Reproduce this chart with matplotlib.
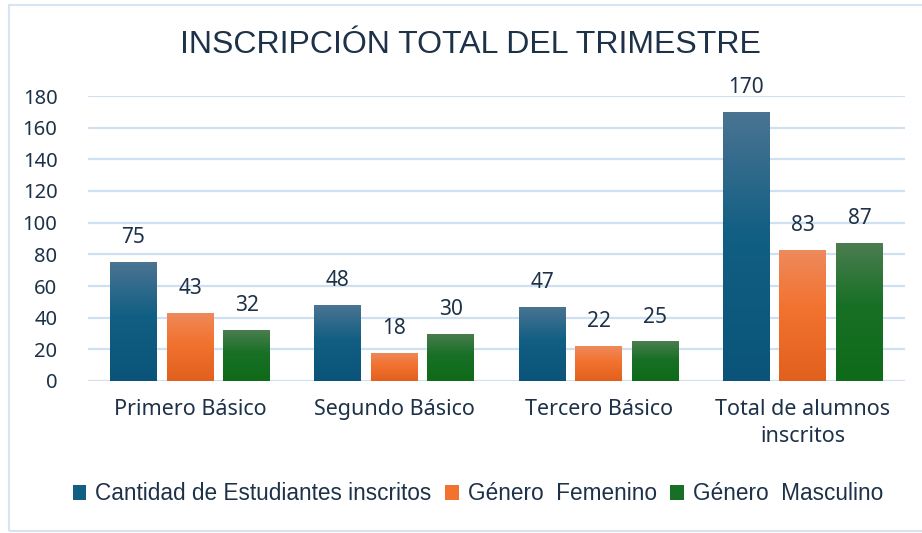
import numpy as np
import matplotlib
matplotlib.use("Agg")
import matplotlib.pyplot as plt
from matplotlib.colors import LinearSegmentedColormap
from matplotlib.patches import Patch, Rectangle

categories = ["Primero Básico", "Segundo Básico", "Tercero Básico", "Total de alumnos\ninscritos"]
series_names = ["Cantidad de Estudiantes inscritos", "Género  Femenino", "Género  Masculino"]
cantidad = [75, 48, 47, 170]
femenino = [43, 18, 22, 83]
masculino = [32, 30, 25, 87]
yticks = [0, 20, 40, 60, 80, 100, 120, 140, 160, 180]

# bottom, middle, top colour of each gradient
grads = [("#0a5479", "#125f84", "#4b7492"),
         ("#e2601e", "#f2722f", "#ee8a5c"),
         ("#0e6b19", "#187026", "#4b7d50")]
text_col = "#1d3148"
grid_col = "#cfe0f3"
body_font = ["Noto Sans", "DejaVu Sans"]
narrow_font = ["Liberation Sans Narrow", "Liberation Sans", "DejaVu Sans"]

fig = plt.figure(figsize=(9.22, 5.33), dpi=100)
ax = fig.add_axes([88 / 922, 152 / 533, 817 / 922, 285 / 533])

# frame around the chart
fig.add_artist(Rectangle((9 / 922, 2 / 533), 920 / 922, 526 / 533, transform=fig.transFigure,
                         fill=False, edgecolor="#d6e4f3", linewidth=1.5))

x = np.arange(len(categories))
width = 0.23
offsets = [-0.277, 0, 0.277]
data = [cantidad, femenino, masculino]

grad = np.linspace(0, 1, 256).reshape(-1, 1)
for vals, off, (bot, mid, top) in zip(data, offsets, grads):
    cmap = LinearSegmentedColormap.from_list("g", [(0, bot), (0.55, mid), (1, top)])
    bars = ax.bar(x + off, vals, width, color="none", zorder=3)
    for b, v in zip(bars, vals):
        bx, by = b.get_x(), b.get_y()
        im = ax.imshow(grad, cmap=cmap, aspect="auto", origin="lower",
                       extent=(bx, bx + b.get_width(), by, by + b.get_height()), zorder=3)
        im.set_clip_path(b)
        ax.annotate(str(v), (b.get_x() + b.get_width() / 2, v), xytext=(0, 10),
                    textcoords="offset points", ha="center", va="bottom",
                    fontsize=15, color=text_col, family=body_font)

ax.set_xlim(-0.5, 3.5)
ax.set_ylim(0, 180)
ax.set_yticks(yticks)
ax.set_xticks(x)
ax.set_xticklabels(categories, fontsize=15.5, color=text_col, family=body_font, linespacing=1.4)
for lbl in ax.get_yticklabels():
    lbl.set_fontsize(14.5)
    lbl.set_color(text_col)
    lbl.set_family(body_font)
ax.tick_params(axis="y", length=0, pad=22)
ax.tick_params(axis="x", length=0, pad=13)
ax.grid(axis="y", color=grid_col, linewidth=1.6, zorder=0)
ax.set_axisbelow(True)
for s in ax.spines.values():
    s.set_visible(False)

fig.text(470 / 922, 1 - 45 / 533, "INSCRIPCIÓN TOTAL DEL TRIMESTRE", ha="center", va="center",
         fontsize=23, color=text_col, family=narrow_font)

handles = [Patch(facecolor=mid) for bot, mid, top in grads]
fig.legend(handles, series_names, loc="center", bbox_to_anchor=(478 / 922, 1 - 494 / 533),
           ncol=3, frameon=False, handlelength=0.6, handleheight=0.6, handletextpad=0.4,
           columnspacing=0.6, prop={"family": narrow_font, "size": 16.3}, labelcolor=text_col)

fig.savefig("out.png", dpi=100)
